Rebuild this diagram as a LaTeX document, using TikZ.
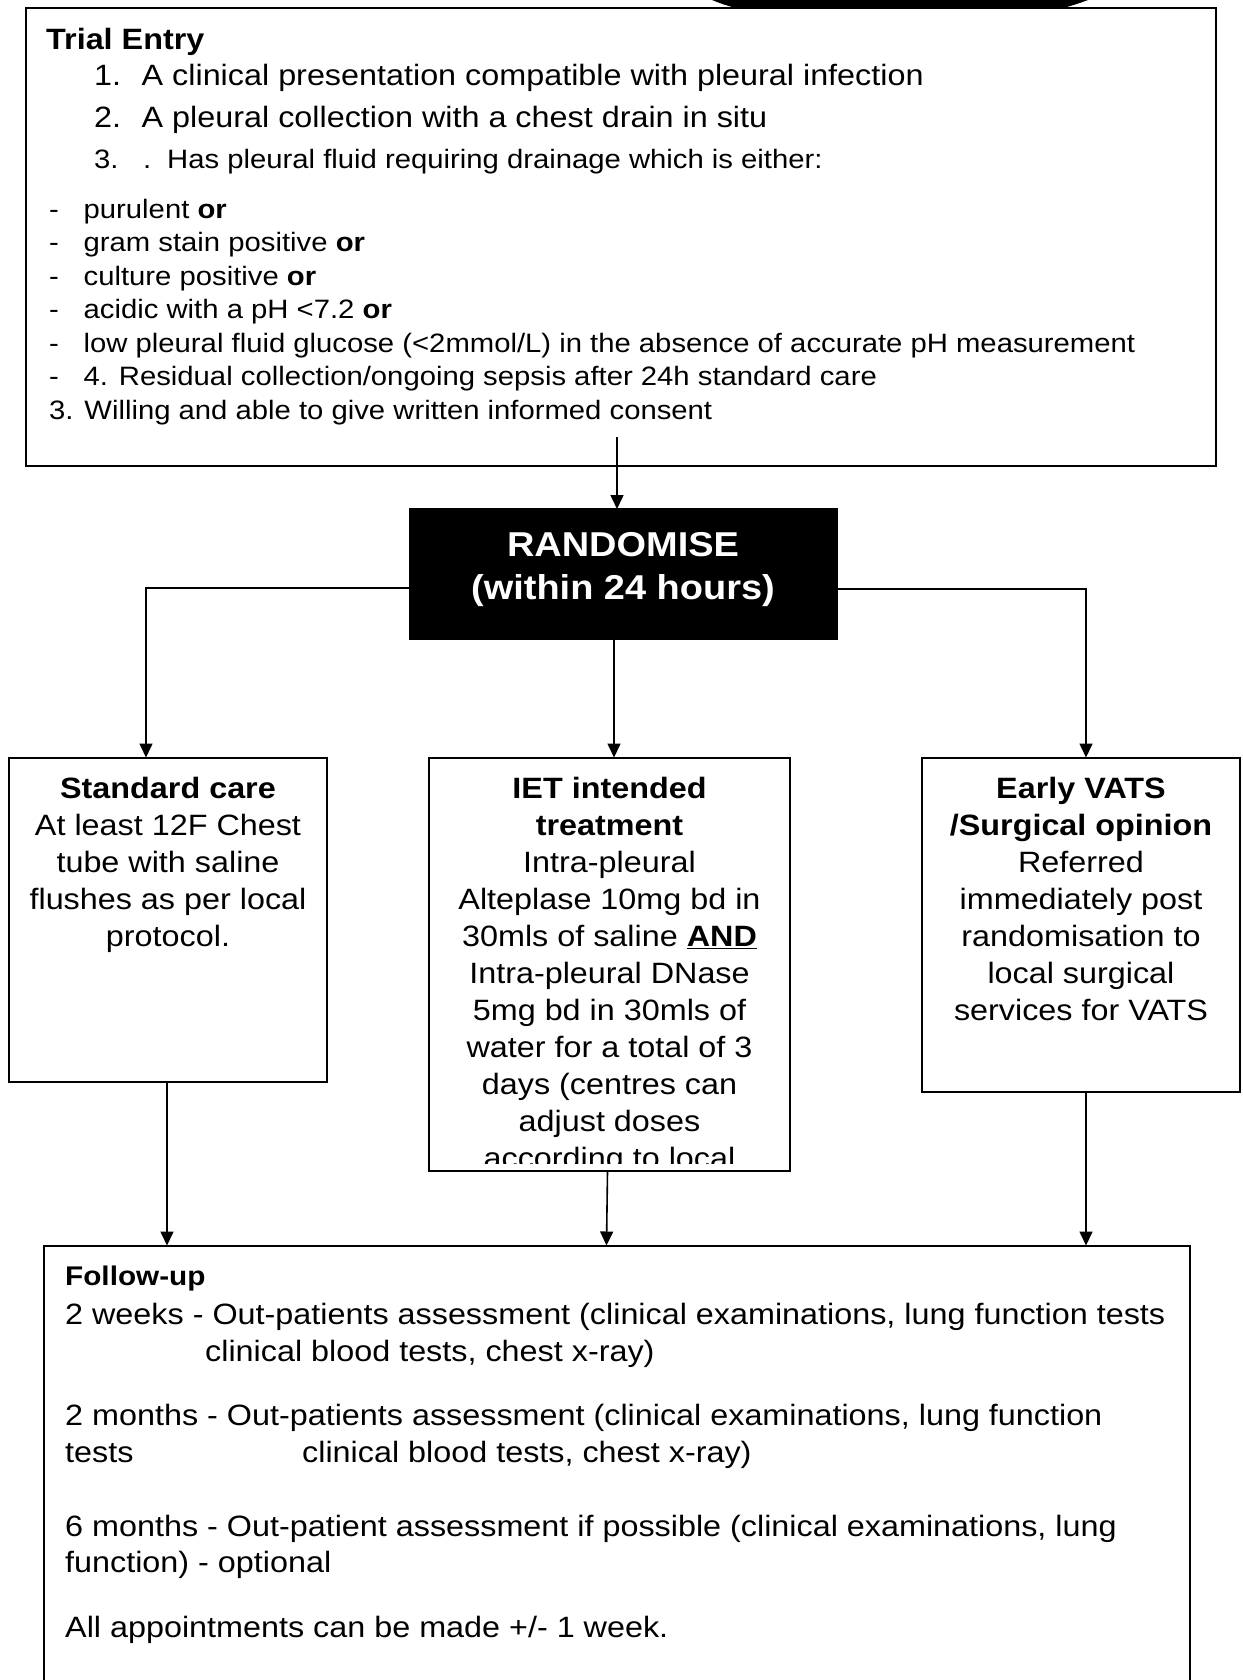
\documentclass[tikz,border=0pt]{standalone}
\usepackage{fontspec}
\setmainfont{Liberation Sans}[FakeStretch=1.1]
\usetikzlibrary{arrows.meta}
\begin{document}
\begin{tikzpicture}[x=1pt,y=-1pt,
  box/.style={draw=black, line width=2pt, inner sep=0pt, outer sep=0pt, fill=white},
  arr/.style={line width=1.6pt, -{Triangle[length=14pt,width=13pt]}},
  big/.style={font=\fontsize{29.4}{37}\selectfont},
  bigb/.style={font=\fontsize{29.4}{37}\selectfont\bfseries},
  med/.style={font=\fontsize{26.6}{33}\selectfont},
  fub/.style={font=\fontsize{27}{33}\selectfont\bfseries},
  ln/.style={inner sep=0pt, anchor=base west},
  % multi-line nodes are placed by the baseline of their last line
  ctr/.style={inner sep=0pt, anchor=base, align=center},
]
\useasboundingbox (0,0) rectangle (1242,1680);
\clip (0,0) rectangle (1242,1680);

% ---------- entry criteria ----------
\node[box, minimum width=1190pt, minimum height=458pt] (entry) at (621,237) {};
\fill[black] (712,-2) -- (712,0) .. controls (722,4) .. (737,8.5) -- (1062,8.5)
  .. controls (1077,4) .. (1088,0) -- (1088,-2) -- cycle;

\node[ln,bigb] (t-head) at (46,49.5) {Trial Entry};
\node[ln,big] (t-1) at (94,86) {\makebox[47.5pt][l]{1.}A clinical presentation compatible with pleural infection};
\node[ln,big] (t-2) at (94,127.3) {\makebox[47.5pt][l]{2.}A pleural collection with a chest drain in situ};
\node[ln,med] (t-3) at (94,169) {\makebox[49pt][l]{3.}\makebox[24pt][l]{.}Has pleural fluid requiring drainage which is either:};
\node[ln,med] (t-d1) at (49,219) {\makebox[34.5pt][l]{-}purulent \textbf{or}};
\node[ln,med] (t-d2) at (49,251.5) {\makebox[34.5pt][l]{-}gram stain positive \textbf{or}};
\node[ln,med] (t-d3) at (49,285) {\makebox[34.5pt][l]{-}culture positive \textbf{or}};
\node[ln,med] (t-d4) at (49,318.5) {\makebox[34.5pt][l]{-}acidic with a pH <7.2 \textbf{or}};
\node[ln,med] (t-d5) at (49,352) {\makebox[34.5pt][l]{-}low pleural fluid glucose (<2mmol/L) in the absence of accurate pH measurement};
\node[ln,med] (t-d6) at (49,385.5) {\makebox[34.5pt][l]{-}4. Residual collection/ongoing sepsis after 24h standard care};
\node[ln,med] (t-4) at (49,419) {3. Willing and able to give written informed consent};

% ---------- randomisation ----------
\node[box, fill=black, minimum width=427pt, minimum height=130pt] (rand) at (623,574) {};
\node[ctr, font=\fontsize{34.5}{43}\selectfont\bfseries, text=white] (rand-t) at (623,599)
  {RANDOMISE\\(within 24 hours)};

% ---------- treatment arms ----------
\node[box, minimum width=318pt, minimum height=324.5pt] (sc) at (168,919.75) {};
\node[box, minimum width=361pt, minimum height=413.5pt] (iet) at (609.5,964.25) {};
\node[box, minimum width=318pt, minimum height=334.5pt] (vats) at (1081,924.75) {};

\node[ctr,big] (sc-t) at (168,946.5)
  {\textbf{Standard care}\\At least 12F Chest\\tube with saline\\flushes as per local\\protocol.};
\begin{scope}
  \clip (430,758) rectangle (789,1163);
  \node[ctr,big] (iet-t) at (609.5,1168.5)
    {\textbf{IET intended}\\\textbf{treatment}\\Intra-pleural\\Alteplase 10mg bd in\\30mls of saline \underline{\textbf{AND}}\\Intra-pleural DNase\\5mg bd in 30mls of\\water for a total of 3\\days (centres can\\adjust doses\\according to local};
\end{scope}
\node[ctr,big] (vats-t) at (1081,1020.5)
  {\textbf{Early VATS}\\\textbf{/Surgical opinion}\\Referred\\immediately post\\randomisation to\\local surgical\\services for VATS};

% ---------- follow-up ----------
\node[box, minimum width=1146.3pt, minimum height=480pt] (fu) at (617,1485.5) {};
\node[ln,fub] (f-head) at (65,1285.2) {Follow-up};
\node[ln,big] (f-1a) at (65,1324.2) {2 weeks - Out-patients assessment (clinical examinations, lung function tests};
\node[ln,big] (f-1b) at (205,1361.2) {clinical blood tests, chest x-ray)};
\node[ln,big] (f-2a) at (65,1425.2) {2 months - Out-patients assessment (clinical examinations, lung function};
\node[ln,big] (f-2b) at (65,1462.2) {tests};
\node[ln,big] (f-2c) at (302,1462.2) {clinical blood tests, chest x-ray)};
\node[ln,big] (f-3a) at (65,1536.2) {6 months - Out-patient assessment if possible (clinical examinations, lung};
\node[ln,big] (f-3b) at (65,1572.2) {function) - optional};
\node[ln,big] (f-4) at (65,1637.2) {All appointments can be made +/- 1 week.};

% ---------- connectors ----------
\coordinate (entry-out) at (617,437);
\draw[arr] (entry-out) -- (entry-out |- rand.north);
\draw[arr] ([yshift=-14pt]rand.west) -| ([xshift=-22pt]sc.north);
\draw[arr] ([yshift=-15pt]rand.east) -| ([xshift=5pt]vats.north);
\draw[arr] ([xshift=-9pt]rand.south) -- ([xshift=4.5pt]iet.north);
\draw[arr] ([xshift=-1pt]sc.south) -- ([xshift=-1pt]sc.south |- fu.north);
\draw[arr] ([xshift=-2pt]iet.south) -- ([xshift=-3pt]iet.south |- fu.north);
\draw[arr] ([xshift=5pt]vats.south) -- ([xshift=5pt]vats.south |- fu.north);
\end{tikzpicture}
\end{document}
